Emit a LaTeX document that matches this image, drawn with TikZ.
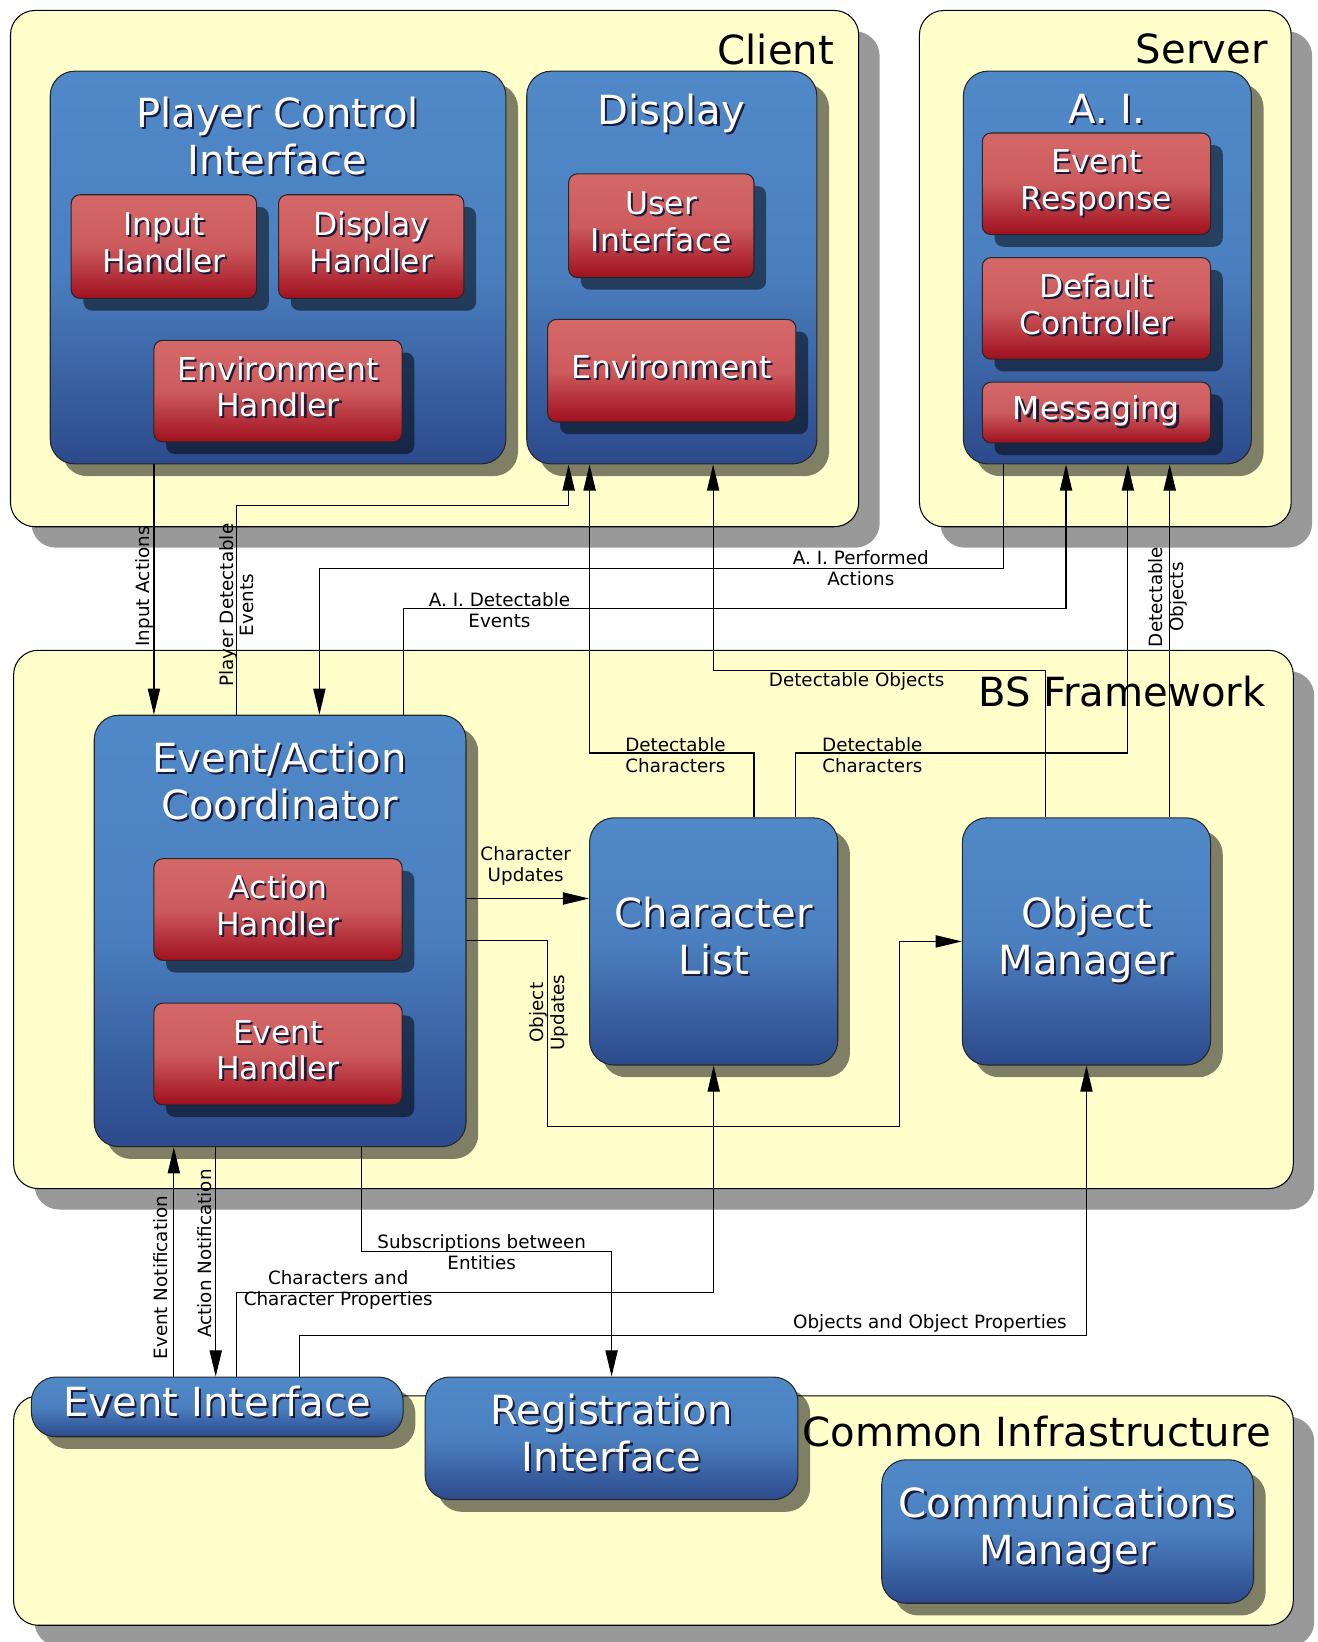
\documentclass[tikz,border=0pt]{standalone}
\usepackage{fontspec}
\setmainfont{DejaVu Sans}
\usetikzlibrary{shadows,arrows.meta}

\definecolor{contfill}{HTML}{FFFFCC}
\definecolor{bluetop}{HTML}{5089C8}
\definecolor{bluemid}{HTML}{4B80C0}
\definecolor{bluebot}{HTML}{2C4A8C}
\definecolor{redtop}{HTML}{D46868}
\definecolor{redmid}{HTML}{CD5B5D}
\definecolor{redbot}{HTML}{A0101F}
\definecolor{txtshade}{HTML}{1A1A3A}

\newcommand\titlefnt{\fontsize{23}{27}\selectfont}
\newcommand\boxfnt{\fontsize{18}{21}\selectfont}
\newcommand\lblfnt{\fontsize{10.5}{12}\selectfont}
% white text with a small dark shade under it
\newcommand\shtxt[1]{\makebox[0pt][l]{\raisebox{-1.2pt}[0pt][0pt]{\kern1.2pt\color{txtshade}\begin{tabular}{@{}c@{}}#1\end{tabular}}}\begin{tabular}{@{}c@{}}#1\end{tabular}}

\tikzset{
	container/.style={draw=black, line width=.6pt, fill=contfill, rounded corners=14pt, inner sep=0pt,
		drop shadow={shadow xshift=12pt, shadow yshift=-12pt, opacity=.4, fill=black}},
	bluebox/.style={draw=black!85, line width=.6pt, rounded corners=14pt, inner sep=0pt,
		top color=bluetop, bottom color=bluebot, middle color=bluemid, text=white, font=\titlefnt,
		drop shadow={shadow xshift=7pt, shadow yshift=-7pt, opacity=.5, fill=black}},
	redbox/.style={draw=black!85, line width=.6pt, rounded corners=5pt, inner sep=0pt,
		top color=redtop, bottom color=redbot, middle color=redmid, text=white, font=\boxfnt,
		drop shadow={shadow xshift=7pt, shadow yshift=-7pt, opacity=.5, fill=black}},
	boxtitle/.style={text=white, font=\titlefnt, inner sep=0pt},
	contlabel/.style={font=\titlefnt, inner sep=0pt, anchor=east},
	lbl/.style={font=\lblfnt, align=center, inner sep=0pt}
}

\begin{document}
\begin{tikzpicture}[x=0.6pt, y=-0.6pt, line width=.7pt, >={Triangle[length=15pt,width=7pt]}]
	\useasboundingbox (0,0) rectangle (1258,1568);
	% containers
	\draw (415,256.5) node[container, minimum width=486pt, minimum height=295.8pt] (client) {};
	\draw (1055.5,256.5) node[container, minimum width=213pt, minimum height=295.8pt] (server) {};
	\draw (624,878) node[container, minimum width=733.2pt, minimum height=308.4pt] (bsfw) {};
	\draw (624,1442.5) node[container, minimum width=733.2pt, minimum height=131.4pt] (common) {};
	\draw (797,47) node[contlabel] (clientlbl) {Client};
	\draw (1211,47) node[contlabel] (serverlbl) {Server};
	\draw (1209,660) node[contlabel] (bsfwlbl) {BS Framework};
	\draw (1214,1367) node[contlabel] (commonlbl) {Common Infrastructure};

	% client
	\draw (265.5,255.5) node[bluebox, minimum width=261pt, minimum height=225pt] (pci) {};
	\draw (265,135) node[boxtitle] (pcititle) {\shtxt{Player Control\\Interface}};
	\draw (156.5,235.5) node[redbox, minimum width=106.2pt, minimum height=59.4pt] (inhand) {\shtxt{Input\\Handler}};
	\draw (354.5,235.5) node[redbox, minimum width=106.2pt, minimum height=59.4pt] (dishand) {\shtxt{Display\\Handler}};
	\draw (265.5,373.5) node[redbox, minimum width=142.2pt, minimum height=58.2pt] (envhand) {\shtxt{Environment\\Handler}};
	\draw (641.5,255.5) node[bluebox, minimum width=166.2pt, minimum height=225pt] (disp) {};
	\draw (641,110) node[boxtitle] (disptitle) {\shtxt{Display}};
	\draw (631.5,215.5) node[redbox, minimum width=106.2pt, minimum height=59.4pt] (ui) {\shtxt{User\\Interface}};
	\draw (641.5,354) node[redbox, minimum width=142.2pt, minimum height=58.8pt] (env) {\shtxt{Environment}};

	% server
	\draw (1057.5,255.5) node[bluebox, minimum width=165pt, minimum height=225pt] (ai) {};
	\draw (1057,109) node[boxtitle] (aititle) {\shtxt{A. I.}};
	\draw (1047,175.5) node[redbox, minimum width=130.8pt, minimum height=58.2pt] (evresp) {\shtxt{Event\\Response}};
	\draw (1047,294.5) node[redbox, minimum width=130.8pt, minimum height=58.2pt] (defctrl) {\shtxt{Default\\Controller}};
	\draw (1047,394) node[redbox, minimum width=130.8pt, minimum height=34.8pt] (msg) {\shtxt{Messaging}};

	% framework
	\draw (267.5,889) node[bluebox, minimum width=213pt, minimum height=247.2pt] (eac) {};
	\draw (267,751) node[boxtitle] (eactitle) {\shtxt{Event/Action\\Coordinator}};
	\draw (265.5,868.5) node[redbox, minimum width=142.2pt, minimum height=58.2pt] (acthand) {\shtxt{Action\\Handler}};
	\draw (265.5,1006.5) node[redbox, minimum width=142.2pt, minimum height=58.2pt] (evhand) {\shtxt{Event\\Handler}};
	\draw (681.5,899) node[bluebox, minimum width=142.2pt, minimum height=141.6pt] (charlist) {\shtxt{Character\\List}};
	\draw (1037.5,899) node[bluebox, minimum width=142.2pt, minimum height=141.6pt] (objmgr) {\shtxt{Object\\Manager}};

	% infrastructure
	\draw (207.5,1343.5) node[bluebox, minimum width=213pt, minimum height=34.2pt] (evint) {\shtxt{Event Interface}};
	\draw (584,1373.5) node[bluebox, minimum width=213.6pt, minimum height=70.2pt] (regint) {\shtxt{Registration\\Interface}};
	\draw (1019.5,1462.5) node[bluebox, minimum width=213pt, minimum height=82.2pt] (comm) {\shtxt{Communications\\Manager}};

	% connectors
	\draw[->] (pci.south -| 147,0) -- (eac.north -| 147,0);
	\draw[->] (eac.north -| 226,0) -- (226,483) -| (disp.south -| 543,0);
	\draw[->] (charlist.north -| 720,0) -- (720,719) -| (disp.south -| 563,0);
	\draw[->] (objmgr.north -| 998,0) -- (998,640) -| (disp.south -| 681,0);
	\draw[->] (ai.south -| 958,0) -- (958,543) -| (eac.north -| 305,0);
	\draw[->] (eac.north -| 385,0) -- (385,581) -| (ai.south -| 1018,0);
	\draw[->] (charlist.north -| 760,0) -- (760,719) -| (ai.south -| 1077,0);
	\draw[->] (objmgr.north -| 1117,0) -- (ai.south -| 1117,0);
	\draw[->] (eac.east |- 0,858) -- (charlist.west |- 0,858);
	\draw[->] (eac.east |- 0,898) -- (523,898) |- (859,1076) |- (objmgr.west);
	\draw[->] (evint.north -| 166,0) -- (eac.south -| 166,0);
	\draw[->] (eac.south -| 206,0) -- (evint.north -| 206,0);
	\draw[->] (eac.south -| 345,0) -- (345,1195) -| (regint.north);
	\draw[->] (evint.north -| 226,0) -- (226,1234) -| (charlist.south);
	\draw[->] (evint.north -| 286,0) -- (286,1275) -| (objmgr.south);

	% connector labels
	\draw (138,560) node[lbl, rotate=90] (lblinput) {Input Actions};
	\draw (226,578) node[lbl, rotate=90] (lblplayer) {Player Detectable\\Events};
	\draw (822,543) node[lbl] (lblaiperf) {A. I. Performed\\Actions};
	\draw (477,583) node[lbl] (lblaidet) {A. I. Detectable\\Events};
	\draw (818,651) node[lbl] (lbldetobj) {Detectable Objects};
	\draw (645,721) node[lbl] (lbldetchar) {Detectable\\Characters};
	\draw (833,721) node[lbl] (lbldetchartwo) {Detectable\\Characters};
	\draw (1115,570) node[lbl, rotate=90] (lbldetobjtwo) {Detectable\\Objects};
	\draw (502,827) node[lbl] (lblcharupd) {Character\\Updates};
	\draw (524,967) node[lbl, rotate=90] (lblobjupd) {Object\\Updates};
	\draw (153,1220) node[lbl, rotate=90] (lblevnot) {Event Notification};
	\draw (195,1197) node[lbl, rotate=90] (lblactnot) {Action Notification};
	\draw (460,1196) node[lbl] (lblsubs) {Subscriptions between\\Entities};
	\draw (323,1232) node[lbl] (lblcharprop) {Characters and\\Character Properties};
	\draw (888,1264) node[lbl] (lblobjprop) {Objects and Object Properties};
\end{tikzpicture}
\end{document}
